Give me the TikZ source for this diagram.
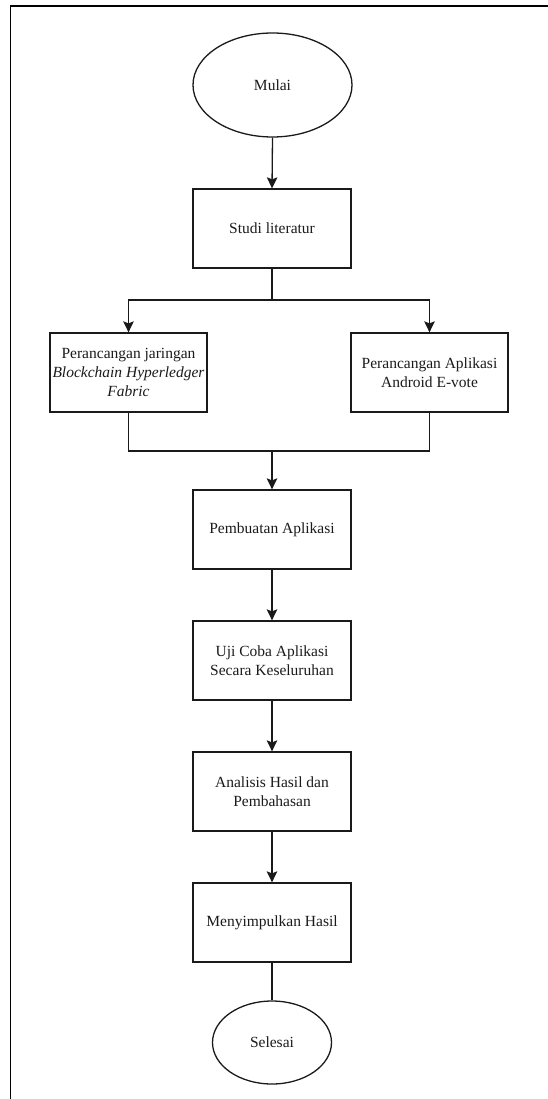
\documentclass[tikz,border=0pt]{standalone}
\usepackage{fontspec}
\setmainfont{Liberation Serif}
\usetikzlibrary{shapes.geometric,arrows.meta}
\definecolor{ink}{HTML}{1A1A1A}
\begin{document}
\begin{tikzpicture}[x=1pt,y=-1pt,
  flow/.style={draw=ink,line width=1.3pt},
  stepbox/.style={flow,rectangle,minimum width=158pt,minimum height=79pt,inner sep=0pt,
    align=center,text=ink,font=\fontsize{15.5}{19}\selectfont},
  terminal/.style={flow,ellipse,inner sep=0pt,text=ink,font=\fontsize{15.5}{19}\selectfont},
  arrow/.style={flow,-{Stealth[length=11pt,width=10.5pt,inset=2pt]}}]
  \useasboundingbox (0,0) rectangle (548,1099);
  % page frame
  \draw[line width=1.8pt] (548,6) -- (10.5,6) -- (10.5,1099);

  % nodes
  \node[terminal,minimum width=159pt,minimum height=104pt] (mulai) at (272.5,85) {Mulai};
  \node[stepbox] (studi) at (272,228.5) {Studi literatur};
  \node[stepbox,minimum width=157pt] (jaringan) at (128.5,372.5)
    {Perancangan jaringan\\\textit{Blockchain Hyperledger}\\\textit{Fabric}};
  \node[stepbox,minimum width=157pt] (android) at (429.5,372.5)
    {Perancangan Aplikasi\\Android E-vote};
  \node[stepbox] (buat) at (272,529.5) {Pembuatan Aplikasi};
  \node[stepbox] (uji) at (272,660.5) {Uji Coba Aplikasi\\Secara Keseluruhan};
  \node[stepbox] (analisis) at (272,791.5) {Analisis Hasil dan\\Pembahasan};
  \node[stepbox] (simpul) at (272,922.5) {Menyimpulkan Hasil};
  \node[terminal,minimum width=119pt,minimum height=83pt] (selesai) at (272,1042.5) {Selesai};

  % branch and join points
  \coordinate (split) at (272,300);
  \coordinate (join) at (272,451);

  % connectors
  \draw[arrow] (mulai.south) -- (studi.north);
  \draw[flow] (studi.south) -- (split);
  \draw[arrow] (split) -| (jaringan.north);
  \draw[arrow] (split) -| (android.north);
  \draw[flow] (jaringan.south) |- (join);
  \draw[flow] (android.south) |- (join);
  \draw[arrow] (join) -- (buat.north);
  \draw[arrow] (buat.south) -- (uji.north);
  \draw[arrow] (uji.south) -- (analisis.north);
  \draw[arrow] (analisis.south) -- (simpul.north);
  \draw[flow] (simpul.south) -- (selesai.north);
\end{tikzpicture}
\end{document}
